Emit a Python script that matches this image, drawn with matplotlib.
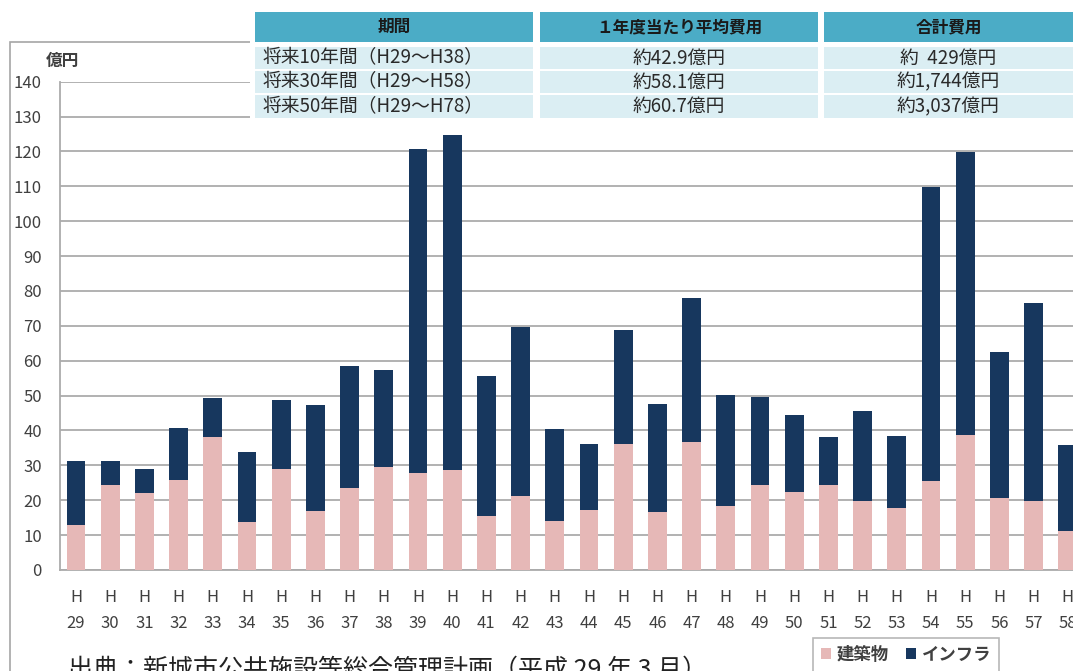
import matplotlib
matplotlib.use("Agg")
import matplotlib.pyplot as plt
from matplotlib.patches import Rectangle
import numpy as np

plt.rcParams['font.family'] = ['Noto Sans CJK JP', 'DejaVu Sans']

# data (億円)
years = ["29", "30", "31", "32", "33", "34", "35", "36", "37", "38",
         "39", "40", "41", "42", "43", "44", "45", "46", "47", "48",
         "49", "50", "51", "52", "53", "54", "55", "56", "57", "58"]
building = [12.9, 24.4, 22.1, 25.8, 38.1, 13.9, 29.1, 16.8, 23.5, 29.5,
            27.8, 28.7, 15.4, 21.1, 14.0, 17.3, 36.1, 16.7, 36.6, 18.3,
            24.5, 22.4, 24.4, 19.9, 17.7, 25.5, 38.7, 20.6, 19.9, 11.2]
infra = [18.3, 6.8, 6.8, 14.8, 11.1, 20.0, 19.6, 30.5, 35.0, 27.8,
         92.8, 95.9, 40.2, 48.5, 26.4, 18.8, 32.7, 30.8, 41.5, 31.8,
         25.2, 22.1, 13.6, 25.7, 20.8, 84.3, 81.2, 41.9, 56.7, 24.5]

table_header = ["期間", "１年度当たり平均費用", "合計費用"]
table_period = ["将来10年間（H29～H38）", "将来30年間（H29～H58）", "将来50年間（H29～H78）"]
table_avg = ["約42.9億円", "約58.1億円", "約60.7億円"]
table_total = ["約  429億円", "約1,744億円", "約3,037億円"]

PINK = "#E6B8B7"
NAVY = "#17375E"
GRID = "#ABABAB"
TXT = "#404040"

W, H = 1073, 671
fig = plt.figure(figsize=(W / 100, H / 100), dpi=100)


def fx(x):
    return x / W


def fy(y):
    return 1 - y / H


# outer frame of the original chart
fig.patches.append(Rectangle((fx(10), fy(700)), fx(1100), fy(42) - fy(700),
                             transform=fig.transFigure, fill=False,
                             edgecolor="#A6A6A6", linewidth=1.2, zorder=0))

ax = fig.add_axes([fx(60), fy(570), fx(W) - fx(60), fy(81.7) - fy(570)])
x = np.arange(len(years))
ax.bar(x, building, width=0.55, color=PINK, label="建築物", zorder=3)
ax.bar(x, infra, width=0.55, bottom=building, color=NAVY, label="インフラ", zorder=3)

ax.set_ylim(0, 140)
ax.set_xlim(-0.468, (W - 60) / 34.2 - 0.468)
ax.set_yticks(range(0, 141, 10))
ax.yaxis.grid(True, color=GRID, linewidth=1.3, zorder=0)
ax.set_axisbelow(True)
for s in ["top", "right"]:
    ax.spines[s].set_visible(False)
ax.spines["left"].set_color(GRID)
ax.spines["bottom"].set_color(GRID)
ax.spines["left"].set_linewidth(1.3)
ax.spines["bottom"].set_linewidth(1.3)
ax.tick_params(axis="y", length=0, pad=13, labelsize=12, labelcolor=TXT)
ax.tick_params(axis="x", length=0, pad=14, labelsize=12, labelcolor=TXT)
ax.set_xticks(x)
ax.set_xticklabels(["H\n" + y for y in years], linespacing=1.65)

fig.text(fx(62), fy(61), "億円", ha="center", va="center", fontsize=12,
         color=TXT, fontweight="bold")

# summary table on top
cols = [(255, 533), (540, 818), (824, 1080)]
fig.patches.append(Rectangle((fx(250), fy(120)), fx(830), fy(8) - fy(120),
                             transform=fig.transFigure, facecolor="white",
                             edgecolor="none", zorder=2))
rows = [(12, 42), (47, 69), (71, 93), (95, 118)]
for r, (top, bot) in enumerate(rows):
    for c, (left, right) in enumerate(cols):
        color = "#4BACC6" if r == 0 else "#DBEEF3"
        fig.patches.append(Rectangle((fx(left), fy(bot)), fx(right - left), fy(top) - fy(bot),
                                     transform=fig.transFigure, facecolor=color,
                                     edgecolor="none", zorder=3))

for c, (left, right) in enumerate(cols):
    cx = (left + min(right, W)) / 2
    fig.text(fx(cx), fy(27), table_header[c], ha="center", va="center",
             fontsize=12, fontweight="bold", color="#1A1A1A", zorder=4)
for r in range(3):
    top, bot = rows[r + 1]
    cy = (top + bot) / 2
    fig.text(fx(263), fy(cy), table_period[r], ha="left", va="center",
             fontsize=13.5, color="#2A2A2A", zorder=4)
    fig.text(fx(679), fy(cy), table_avg[r], ha="center", va="center",
             fontsize=13.5, color="#2A2A2A", zorder=4)
    fig.text(fx(948), fy(cy), table_total[r], ha="center", va="center",
             fontsize=13.5, color="#2A2A2A", zorder=4)

# legend, cut by the bottom edge like the reference
leg = fig.legend(loc="upper left", bbox_to_anchor=(fx(813), fy(638)), ncol=2,
                 frameon=True, fancybox=False, handlelength=0.6,
                 handleheight=0.6, handletextpad=0.3, columnspacing=1.0,
                 borderpad=0.45, borderaxespad=0,
                 prop={"weight": "bold", "size": 12.5})
leg.get_frame().set_edgecolor("#A6A6A6")
leg.get_frame().set_linewidth(1.2)
for t in leg.get_texts():
    t.set_color(TXT)

# source note, mostly below the image edge
fig.text(fx(68), fy(657), "出典：新城市公共施設等総合管理計画（平成 29 年 3 月）",
         ha="left", va="top", fontsize=18, color="#222222")

fig.savefig("out.png", dpi=100)
